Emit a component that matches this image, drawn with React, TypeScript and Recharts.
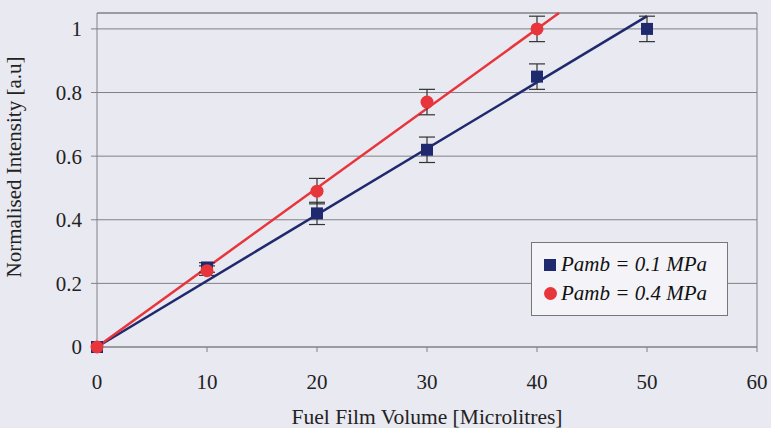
import React from 'react';
import {
  ComposedChart,
  Scatter,
  Line,
  XAxis,
  YAxis,
  CartesianGrid,
  ErrorBar,
  ReferenceLine
} from 'recharts';

const xTicks = [0, 10, 20, 30, 40, 50, 60];
const yTicks = [0, 0.2, 0.4, 0.6, 0.8, 1];

const lowPressure = [
  { x: 0, y: 0, err: 0 },
  { x: 10, y: 0.25, err: 0.015 },
  { x: 20, y: 0.42, err: 0.035 },
  { x: 30, y: 0.62, err: 0.04 },
  { x: 40, y: 0.85, err: 0.04 },
  { x: 50, y: 1.0, err: 0.04 }
];

const highPressure = [
  { x: 0, y: 0, err: 0 },
  { x: 10, y: 0.24, err: 0.015 },
  { x: 20, y: 0.49, err: 0.04 },
  { x: 30, y: 0.77, err: 0.04 },
  { x: 40, y: 1.0, err: 0.04 }
];

// linear fits through origin
const lowFit = [
  { x: 0, y: 0 },
  { x: 50, y: 1.04 }
];
const highFit = [
  { x: 0, y: 0 },
  { x: 42, y: 1.05 }
];

const BLUE = '#1f2a6e';
const RED = '#e8343b';
const FONT = '"Liberation Serif", "Times New Roman", serif';

const SquareMark = (props: any) => {
  const { cx, cy } = props;
  return <rect x={cx - 6} y={cy - 6} width={12} height={12} fill={BLUE} />;
};

const CircleMark = (props: any) => {
  const { cx, cy } = props;
  return <circle cx={cx} cy={cy} r={6.5} fill={RED} />;
};

const legendText: React.CSSProperties = {
  display: 'inline-block',
  fontStyle: 'italic',
  fontSynthesis: 'style',
  fontFamily: FONT
};

const LegendBox = () => (
  <div
    style={{
      position: 'absolute',
      left: 531,
      top: 242,
      width: 197,
      height: 74,
      border: '1px solid #777',
      background: '#f4f4f8',
      fontFamily: FONT,
      fontSize: 21,
      color: '#111',
      display: 'flex',
      flexDirection: 'column',
      justifyContent: 'center',
      paddingLeft: 12,
      boxSizing: 'border-box',
      gap: 4
    }}
  >
    <div style={{ display: 'flex', alignItems: 'center' }}>
      <span style={{ width: 12, height: 12, background: BLUE, display: 'inline-block', marginRight: 5 }} />
      <span style={legendText}>Pamb = 0.1 MPa</span>
    </div>
    <div style={{ display: 'flex', alignItems: 'center' }}>
      <span
        style={{ width: 13, height: 13, background: RED, borderRadius: 7, display: 'inline-block', marginRight: 4 }}
      />
      <span style={legendText}>Pamb = 0.4 MPa</span>
    </div>
  </div>
);

export default function App(): React.ReactElement {
  return (
    <div
      style={{
        position: 'absolute',
        left: 0,
        top: 0,
        width: 771,
        height: 428,
        background: '#e9e9f1',
        fontFamily: FONT
      }}
    >
      <ComposedChart
        width={771}
        height={428}
        margin={{ top: 13, right: 14, left: 0, bottom: 0 }}
        style={{ fontFamily: FONT }}
      >
        <CartesianGrid horizontal vertical={false} stroke="#808085" strokeWidth={1} />
        <XAxis
          type="number"
          dataKey="x"
          domain={[0, 60]}
          ticks={xTicks}
          height={81}
          stroke="#808085"
          tickSize={5}
          tickMargin={22}
          tick={{ fill: '#222', fontSize: 21, fontFamily: FONT }}
          label={{
            value: 'Fuel Film Volume [Microlitres]',
            position: 'insideBottom',
            offset: 4,
            style: { fill: '#222', fontSize: 21.5, fontFamily: FONT }
          }}
        />
        <YAxis
          type="number"
          dataKey="y"
          domain={[0, 1.05]}
          ticks={yTicks}
          width={97}
          stroke="#808085"
          tickSize={6}
          tickMargin={9}
          tick={{ fill: '#222', fontSize: 21, fontFamily: FONT }}
          label={{
            value: 'Normalised Intensity [a.u]',
            angle: -90,
            position: 'insideLeft',
            offset: 14,
            dy: -13,
            style: { fill: '#222', fontSize: 21, fontFamily: FONT, textAnchor: 'middle' }
          }}
        />
        <ReferenceLine y={1.05} stroke="#808085" />
        <ReferenceLine x={60} stroke="#808085" />
        <Line data={lowFit} dataKey="y" stroke={BLUE} strokeWidth={2.5} dot={false} isAnimationActive={false} />
        <Line data={highFit} dataKey="y" stroke={RED} strokeWidth={2.5} dot={false} isAnimationActive={false} />
        <Scatter data={lowPressure} dataKey="y" name="Pamb = 0.1 MPa" shape={SquareMark} isAnimationActive={false}>
          <ErrorBar dataKey="err" direction="y" width={8} stroke="#333" strokeWidth={1.2} />
        </Scatter>
        <Scatter data={highPressure} dataKey="y" name="Pamb = 0.4 MPa" shape={CircleMark} isAnimationActive={false}>
          <ErrorBar dataKey="err" direction="y" width={8} stroke="#333" strokeWidth={1.2} />
        </Scatter>
      </ComposedChart>
      <LegendBox />
    </div>
  );
}
